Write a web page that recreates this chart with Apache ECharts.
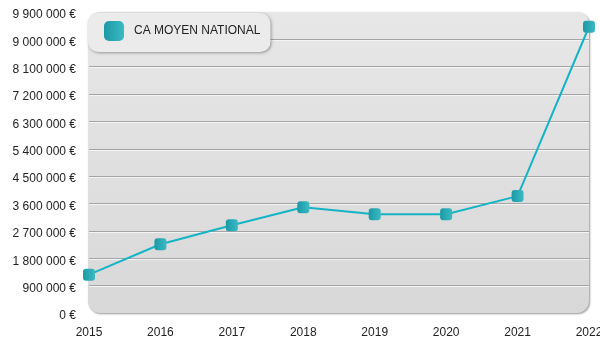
<!DOCTYPE html>
<html>
<head>
<meta charset="utf-8">
<script src="https://cdn.jsdelivr.net/npm/echarts@6/dist/echarts.min.js"></script>
<style>html,body{margin:0;padding:0;background:#fff;}#c{width:600px;height:350px;}</style>
</head>
<body>
<div id="c"></div>
<script>
var years = ['2015','2016','2017','2018','2019','2020','2021','2022'];
var caMoyen = [1262000, 2262000, 2888000, 3480000, 3250000, 3250000, 3845000, 9415000];
var seriesName = 'CA MOYEN NATIONAL';
var yMin = 0, yMax = 9900000, yStep = 900000;

function fmt(v) {
  return '{v|' + String(v).replace(/\B(?=(\d{3})+(?!\d))/g, ' ') + ' €}';
}

var teal = new echarts.graphic.LinearGradient(0, 0, 1, 0, [
  {offset: 0, color: '#1b9aa5'}, {offset: 1, color: '#3cb9c3'}
]);

var chart = echarts.init(document.getElementById('c'), null, {renderer: 'canvas'});
var font = '"Liberation Sans", Arial, sans-serif';
chart.setOption({
  animation: false,
  textStyle: {fontFamily: font},
  grid: {left: 89, right: 11, top: 12, bottom: 37, containLabel: false, outerBoundsMode: 'none'},
  legend: {
    left: 88, top: 13,
    padding: [8, 10, 11, 16],
    itemWidth: 20, itemHeight: 20, itemGap: 10,
    backgroundColor: '#ebebeb',
    borderRadius: 10,
    shadowColor: 'rgba(0,0,0,0.35)', shadowBlur: 3, shadowOffsetX: 1, shadowOffsetY: 1,
    textStyle: {fontSize: 12, color: '#222', fontFamily: font, padding: [0, 0, 0, 5]},
    data: [{name: seriesName, icon: 'roundRect', itemStyle: {color: teal}}]
  },
  xAxis: {
    type: 'category', data: years, boundaryGap: false,
    axisLine: {show: false}, axisTick: {show: false},
    axisLabel: {color: '#222', fontSize: 12, margin: 14, fontFamily: font},
    splitLine: {show: false}
  },
  yAxis: {
    type: 'value', min: yMin, max: yMax, interval: yStep,
    axisLine: {show: false}, axisTick: {show: false},
    axisLabel: {color: '#222', fontSize: 12, margin: 13, formatter: fmt, fontFamily: font,
      rich: {v: {color: '#222', fontSize: 12, fontFamily: font, padding: [6, 0, 0, 0]}}},
    splitLine: {show: true, showMaxLine: false, showMinLine: false,
      lineStyle: {color: '#a4a4a4', width: 1, shadowColor: '#f4f4f4', shadowOffsetY: 1, shadowBlur: 0}}
  },
  series: [{
    name: seriesName, type: 'line', data: caMoyen,
    symbol: 'roundRect', symbolSize: 12, showSymbol: true,
    clip: true,
    lineStyle: {color: '#14b4c6', width: 2},
    itemStyle: {color: teal},
    z: 3
  }]
});

var rect = chart.getModel().getComponent('grid').coordinateSystem.getRect();
chart.setOption({
  graphic: [{
    type: 'rect', z: -10, silent: true,
    shape: {x: rect.x - 1, y: rect.y, width: rect.width + 1, height: rect.height, r: 12},
    style: {
      fill: new echarts.graphic.LinearGradient(0, 0, 0, 1, [
        {offset: 0, color: '#e7e7e7'}, {offset: 1, color: '#d8d8d8'}
      ]),
      shadowColor: 'rgba(0,0,0,0.4)', shadowBlur: 2, shadowOffsetX: 1, shadowOffsetY: 1
    }
  }]
});
</script>
</body>
</html>
